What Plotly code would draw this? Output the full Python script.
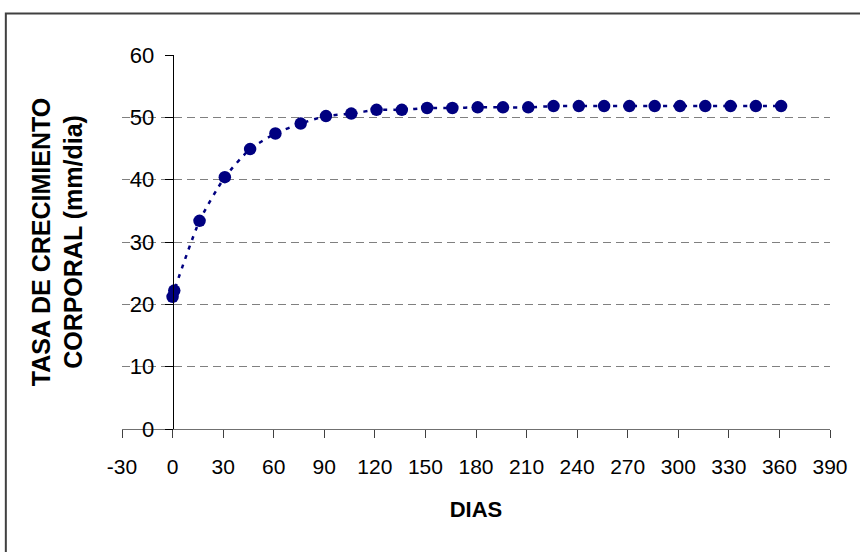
import plotly.graph_objects as go

dias = [0, 1, 16, 31, 46, 61, 76, 91, 106, 121, 136, 151, 166, 181, 196,
        211, 226, 241, 256, 271, 286, 301, 316, 331, 346, 361]
tasa = [21.2, 22.2, 33.4, 40.4, 44.9, 47.4, 49.0, 50.2, 50.6, 51.2, 51.2,
        51.5, 51.5, 51.6, 51.6, 51.6, 51.8, 51.8, 51.8, 51.8, 51.8, 51.8,
        51.8, 51.8, 51.8, 51.8]

x_ticks = list(range(-30, 391, 30))
y_ticks = list(range(0, 61, 10))

navy = "#000080"
font_family = "Liberation Sans, Arial, sans-serif"

fig = go.Figure()
fig.add_trace(go.Scatter(
    x=dias, y=tasa, mode="lines+markers",
    line=dict(color=navy, width=2.5, dash="4px,6px", shape="spline", smoothing=0.6),
    marker=dict(color=navy, size=12.5, line=dict(width=0)),
    showlegend=False,
))

W, H = 860, 552
ml, mr, mt, mb = 122, 28, 55, 123
pw, ph = W - ml - mr, H - mt - mb

# outer border (chart frame)
fig.add_shape(type="rect", xref="paper", yref="paper",
              x0=(5.5 - ml) / pw, x1=(W + 20 - ml) / pw,
              y0=-(mb + 20) / ph, y1=(H - mb - 13.5) / ph,
              line=dict(color="#404040", width=2), fillcolor="rgba(0,0,0,0)",
              layer="below")

fig.update_layout(
    width=W, height=H,
    margin=dict(l=ml, r=mr, t=mt, b=mb),
    paper_bgcolor="white", plot_bgcolor="white",
    font=dict(family=font_family, color="black", size=21),
    xaxis=dict(
        range=[-30, 390], tickvals=x_ticks, ticktext=[str(v) for v in x_ticks],
        showgrid=False, zeroline=False,
        showline=True, linecolor="#707070", linewidth=1,
        ticks="outside", ticklen=8, tickcolor="#404040", tickwidth=1,
        tickfont=dict(size=21), ticklabelstandoff=11,
        title=dict(text="<b>DIAS</b>", font=dict(size=22), standoff=24),
    ),
    yaxis=dict(
        range=[0, 60], tickvals=y_ticks, ticktext=[str(v) for v in y_ticks],
        anchor="free", position=30 / 420,
        showgrid=True, gridcolor="#808080", gridwidth=1, griddash="8px,5px",
        zeroline=False,
        showline=True, linecolor="black", linewidth=1,
        ticks="outside", ticklen=8, tickcolor="black", tickwidth=1,
        tickfont=dict(size=22), ticklabelstandoff=6,
        title=dict(text="<b>TASA DE CRECIMIENTO<br>CORPORAL (mm/dia)</b>",
                   font=dict(size=25), standoff=38),
    ),
)

fig.write_html("out.html")
